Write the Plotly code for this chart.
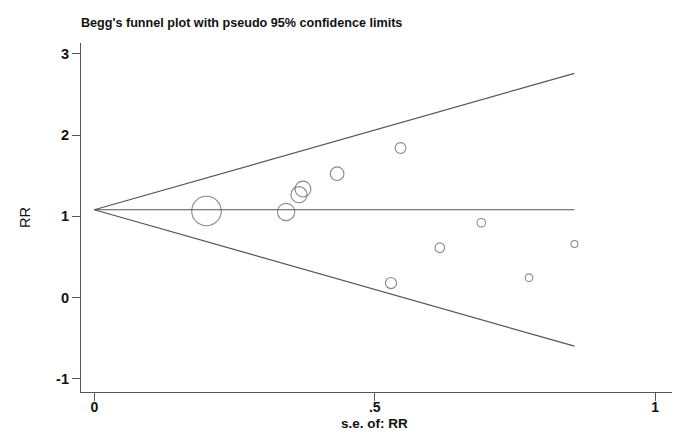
import numpy as np
import plotly.graph_objects as go

# study estimates
se = [0.200, 0.342, 0.365, 0.372, 0.433, 0.546, 0.529, 0.616, 0.690, 0.775, 0.856]
rr = [1.066, 1.054, 1.267, 1.337, 1.525, 1.841, 0.180, 0.615, 0.922, 0.246, 0.661]

pooled = 1.082
se_max = 0.856
limit_se = [0.0, se_max]

x_ticks = [0, 0.5, 1]
x_ticktext = ["0", ".5", "1"]
y_ticks = [-1, 0, 1, 2, 3]
y_ticktext = ["-1", "0", "1", "2", "3"]

LINE = "#555555"
FONT = "Liberation Sans, Arial, sans-serif"

se_arr = np.array(se)
upper = [pooled + 1.96 * s for s in limit_se]
lower = [pooled - 1.96 * s for s in limit_se]

fig = go.Figure()

# pseudo 95% confidence limits
fig.add_trace(go.Scatter(x=limit_se, y=upper, mode="lines",
                         line=dict(color=LINE, width=1.2), hoverinfo="skip"))
fig.add_trace(go.Scatter(x=limit_se, y=lower, mode="lines",
                         line=dict(color=LINE, width=1.2), hoverinfo="skip"))
# pooled estimate line
fig.add_trace(go.Scatter(x=limit_se, y=[pooled, pooled], mode="lines",
                         line=dict(color=LINE, width=1.2), hoverinfo="skip"))

# studies, marker size proportional to 1/se
fig.add_trace(go.Scatter(
    x=se, y=rr, mode="markers",
    marker=dict(symbol="circle-open", size=5.9 / se_arr,
                color=LINE, line=dict(width=1.1, color=LINE)),
))

fig.update_layout(
    width=685, height=442,
    showlegend=False,
    plot_bgcolor="white", paper_bgcolor="white",
    margin=dict(l=81, r=13, t=43, b=50),
    font=dict(family=FONT, color="#111111"),
    title=dict(text="<b>Begg's funnel plot with pseudo 95% confidence limits</b>",
               x=0.0, xref="paper", xanchor="left",
               y=1 - 23 / 442, yref="container", yanchor="middle",
               font=dict(size=12.6, family=FONT, color="#111111")),
    xaxis=dict(
        range=[-0.0237, 1.030], showgrid=False, zeroline=False, automargin=False,
        showline=True, linecolor=LINE, linewidth=1.2,
        ticks="outside", ticklen=8, tickcolor=LINE, tickwidth=1,
        ticklabelstandoff=-6,
        tickvals=x_ticks, ticktext=["<b>%s</b>" % t for t in x_ticktext],
        tickfont=dict(size=14, family=FONT, color="#111111"),
    ),
    yaxis=dict(
        range=[-1.160, 3.133], showgrid=False, zeroline=False, automargin=False,
        showline=True, linecolor=LINE, linewidth=1.2,
        ticks="outside", ticklen=8, tickcolor=LINE, tickwidth=1,
        tickvals=y_ticks, ticktext=["<b>%s</b>" % t for t in y_ticktext],
        tickfont=dict(size=14.5, family=FONT, color="#111111"),
        title=dict(text="RR", standoff=22,
                   font=dict(size=14.5, family=FONT, color="#111111")),
    ),
)

# x-axis title sits tight under the tick labels, as in the Stata output
fig.add_annotation(
    text="<b>s.e. of: RR</b>", xref="paper", yref="paper",
    x=(374.5 - 81) / 591, y=-(423 - 392) / 349,
    xanchor="center", yanchor="middle", showarrow=False,
    font=dict(size=13.5, family=FONT, color="#111111"),
)

# drop the default 8px body margin so the figure sits at the page corner
fig.write_html("out.html", config={"displayModeBar": False},
               post_script="document.body.style.margin='0';")
